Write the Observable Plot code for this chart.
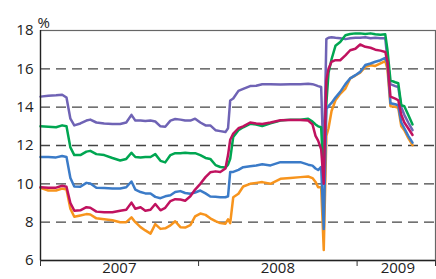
<!DOCTYPE html>
<html>
<head>
<meta charset="utf-8">
<script src="https://cdn.jsdelivr.net/npm/d3@7"></script>
<script src="https://cdn.jsdelivr.net/npm/@observablehq/plot@0.6"></script>
<style>
  html, body { margin: 0; padding: 0; background: #fff; }
  #chart svg { display: block; }
</style>
</head>
<body>
<div id="chart"></div>
<script>
const dates = [
  "2007-01-01","2007-01-19","2007-02-06","2007-02-20","2007-03-02","2007-03-11","2007-03-20","2007-04-03","2007-04-17","2007-04-26",
  "2007-05-10","2007-05-28","2007-06-16","2007-07-04","2007-07-18","2007-07-30","2007-08-08","2007-08-20","2007-08-31","2007-09-12",
  "2007-09-23","2007-10-05","2007-10-16","2007-10-28","2007-11-08","2007-11-20","2007-12-01","2007-12-13","2007-12-24","2008-01-05",
  "2008-01-17","2008-01-28","2008-02-09","2008-02-20","2008-03-03","2008-03-09","2008-03-14","2008-03-21","2008-04-02","2008-04-13",
  "2008-04-29","2008-05-13","2008-05-27","2008-06-15","2008-07-08","2008-07-31","2008-08-23","2008-09-10","2008-09-20","2008-09-27",
  "2008-10-03","2008-10-10","2008-10-16","2008-10-22","2008-10-27","2008-11-03","2008-11-12","2008-11-23","2008-12-05","2008-12-16",
  "2008-12-28","2009-01-08","2009-01-20","2009-02-01","2009-02-12","2009-02-24","2009-03-07","2009-03-12","2009-03-19","2009-03-30",
  "2009-04-06","2009-04-13","2009-04-20","2009-04-29","2009-05-09"
];

const purple = [
  14.55,14.6,14.62,14.65,14.5,13.4,13.05,13.15,13.3,13.35,
  13.2,13.15,13.12,13.12,13.2,13.6,13.3,13.3,13.28,13.3,
  13.25,13.0,12.98,13.3,13.38,13.35,13.3,13.3,13.4,13.2,
  13.05,13.05,12.8,12.75,12.7,12.9,14.35,14.45,14.85,14.95,
  15.1,15.12,15.2,15.2,15.18,15.2,15.2,15.22,15.2,15.15,
  15.1,15.05,10.8,17.55,17.62,17.65,17.62,17.6,17.55,17.6,
  17.62,17.62,17.65,17.6,17.62,17.6,17.6,16.5,15.2,15.1,
  15.05,14.0,13.6,13.2,12.8
];

const green = [
  13.0,12.98,12.95,13.05,13.0,11.9,11.5,11.5,11.68,11.72,
  11.55,11.5,11.35,11.22,11.3,11.62,11.4,11.38,11.4,11.4,
  11.55,11.2,11.12,11.5,11.6,11.6,11.62,11.6,11.6,11.5,
  11.35,11.3,10.98,10.88,10.85,11.0,11.3,12.45,12.8,12.95,
  13.13,13.1,13.02,13.16,13.3,13.35,13.35,13.4,13.25,13.1,
  13.0,12.95,10.2,14.2,15.8,16.5,17.2,17.4,17.75,17.82,
  17.85,17.85,17.82,17.85,17.8,17.78,17.8,17.0,15.4,15.3,
  15.25,14.1,14.05,13.6,13.1
];

const orange = [
  9.79,9.65,9.65,9.75,9.7,8.7,8.28,8.35,8.42,8.4,
  8.2,8.15,8.1,8.0,8.0,8.25,8.0,7.74,7.57,7.4,
  7.9,7.65,7.68,7.83,8.05,7.74,7.72,7.85,8.3,8.45,
  8.38,8.2,8.05,7.95,7.92,8.15,7.95,9.3,9.48,9.86,
  10.0,10.05,10.09,10.0,10.26,10.3,10.35,10.38,10.3,10.1,
  9.82,9.82,6.55,12.5,12.9,13.8,14.36,14.7,14.97,15.5,
  15.65,15.8,16.1,16.19,16.15,16.28,16.4,16.0,14.05,14.02,
  13.97,13.0,12.8,12.4,12.02
];

const blue = [
  11.4,11.4,11.38,11.45,11.4,10.3,9.86,9.85,10.05,10.02,
  9.8,9.78,9.76,9.76,9.82,10.12,9.7,9.57,9.5,9.5,
  9.32,9.25,9.35,9.4,9.57,9.62,9.52,9.48,9.55,9.65,
  9.5,9.34,9.32,9.3,9.3,9.35,10.62,10.62,10.73,10.87,
  10.92,10.96,11.02,10.96,11.13,11.13,11.13,11.0,10.95,10.8,
  10.72,10.88,7.65,13.9,14.05,14.22,14.5,14.8,15.2,15.5,
  15.67,15.84,16.2,16.28,16.37,16.45,16.57,16.3,14.2,14.15,
  14.1,13.2,12.9,12.5,12.15
];

const magenta = [
  9.82,9.8,9.8,9.9,9.85,9.0,8.6,8.62,8.78,8.75,
  8.55,8.52,8.52,8.6,8.65,9.02,8.7,8.78,8.6,8.65,
  8.95,8.62,8.75,9.1,9.2,9.18,9.12,9.35,9.7,10.0,
  10.35,10.6,10.65,10.62,10.8,11.5,12.3,12.62,12.9,13.0,
  13.2,13.15,13.12,13.2,13.32,13.33,13.33,13.3,13.1,12.5,
  12.25,11.8,10.0,15.4,16.0,16.37,16.45,16.45,16.7,16.97,
  17.05,17.27,17.15,17.1,17.0,16.95,16.88,16.4,14.55,14.45,
  14.36,13.6,13.2,12.9,12.55
];

const seriesNames = ["purple", "green", "orange", "blue", "magenta"];
const seriesColors = ["#6f63b5", "#00a651", "#f7941d", "#3b7bc8", "#c0125f"];
const seriesValues = [purple, green, orange, blue, magenta];

const yTicks = [6, 8, 10, 12, 14, 16, 18];
const gridValues = [8, 10, 12, 14, 16];
const yearTicks = ["2007-01-01", "2008-01-01", "2009-01-01", "2009-07-01"];
const yearLabels = ["2007", "2008", "2009"];
const yearLabelDates = ["2007-07-02", "2008-07-02", "2009-04-05"];
const xDomain = ["2007-01-01", "2009-07-01"];
const unitLabel = "%";

const parse = d3.utcParse("%Y-%m-%d");

const rows = [];
seriesNames.forEach((name, i) => {
  dates.forEach((d, j) => {
    rows.push({series: name, date: parse(d), value: seriesValues[i][j]});
  });
});

const labelRows = yearLabels.map((t, i) => ({text: t, date: parse(yearLabelDates[i])}));

const chart = Plot.plot({
  width: 436,
  height: 279,
  marginTop: 30,
  marginRight: 1,
  marginBottom: 19,
  marginLeft: 40,
  style: {fontFamily: "'Open Sans', sans-serif", color: "#222", background: "#fff"},
  x: {type: "utc", domain: xDomain.map(parse)},
  y: {domain: [6, 18]},
  color: {domain: seriesNames, range: seriesColors},
  marks: [
    Plot.ruleY(gridValues, {stroke: "#444", strokeWidth: 1.3, strokeDasharray: "10,6"}),
    ...seriesNames.map((name, i) =>
      Plot.line(rows.filter(r => r.series === name), {
        x: "date", y: "value", stroke: seriesColors[i], strokeWidth: 2.5, strokeLinejoin: "round"
      })
    ),
    Plot.frame({stroke: "#666", strokeWidth: 1.2}),
    Plot.ruleY([6], {stroke: "#222", strokeWidth: 1.3}),
    Plot.ruleX([parse(xDomain[0])], {stroke: "#222", strokeWidth: 1.3}),
    Plot.axisY({ticks: yTicks, tickSize: 0, tickPadding: 7, fontSize: 15, label: null}),
    Plot.axisX({ticks: yearTicks.map(parse), tickSize: 6, tickFormat: () => "", label: null, stroke: "#333"}),
    Plot.text(labelRows, {x: "date", text: "text", frameAnchor: "bottom", dy: 12, fontSize: 15, fill: "#222"}),
    Plot.text([unitLabel], {frameAnchor: "top-left", textAnchor: "start", dx: -3, dy: -13, fontSize: 15, fill: "#222"})
  ]
});

document.getElementById("chart").appendChild(chart);
</script>
</body>
</html>
